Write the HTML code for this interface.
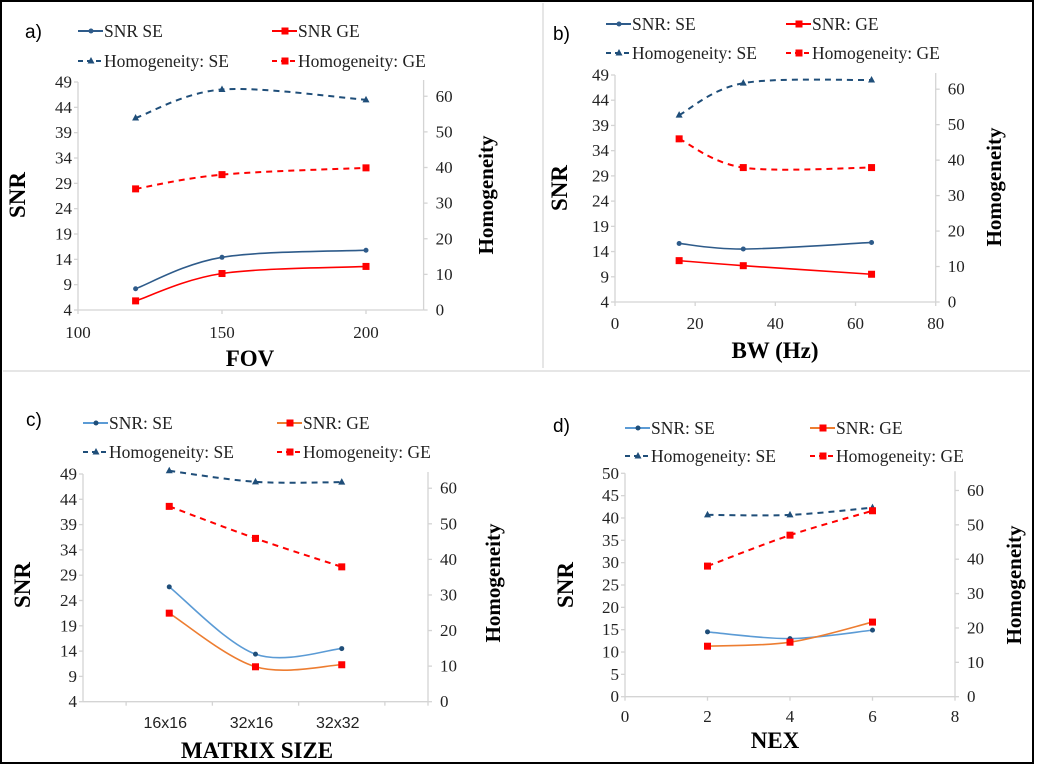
<!DOCTYPE html>
<html><head><meta charset="utf-8">
<style>
html,body{margin:0;padding:0;background:#fff;}
svg{display:block;}
</style></head>
<body>
<svg id="fig" width="1039" height="765" viewBox="0 0 1039 765" xmlns="http://www.w3.org/2000/svg">
<rect x="0" y="0" width="1039" height="765" fill="#fff"/>
<rect x="1" y="1" width="1032" height="762" fill="none" stroke="#000" stroke-width="2"/>
<line x1="543" y1="3" x2="543" y2="368" stroke="#ccc" stroke-width="1"/>
<line x1="3" y1="371" x2="1030" y2="371" stroke="#ccc" stroke-width="1"/>
<g id="root"></g>
</svg>
<script>
// ---- Panel a data ----
const aX = [120, 150, 200];
const aSnrSE = [8.2, 14.4, 15.8];
const aSnrGE = [5.8, 11.2, 12.6];
const aHomSE = [53.9, 61.9, 59];
const aHomGE = [34, 38, 39.9];
const aXTicks = [100, 150, 200];
const aYTicks = [4, 9, 14, 19, 24, 29, 34, 39, 44, 49];
const aRTicks = [0, 10, 20, 30, 40, 50, 60];
// ---- Panel b data ----
const bX = [16, 32, 64];
const bSnrSE = [15.6, 14.5, 15.8];
const bSnrGE = [12.2, 11.2, 9.5];
const bHomSE = [52.7, 61.7, 62.6];
const bHomGE = [46, 37.9, 37.9];
const bXTicks = [0, 20, 40, 60, 80];
const bYTicks = [4, 9, 14, 19, 24, 29, 34, 39, 44, 49];
const bRTicks = [0, 10, 20, 30, 40, 50, 60];
// ---- Panel c data ----
const cCategories = ["16x16", "32x16", "32x32"];
const cSnrSE = [26.7, 13.4, 14.5];
const cSnrGE = [21.5, 10.9, 11.3];
const cHomSE = [64.9, 61.8, 61.7];
const cHomGE = [54.9, 45.9, 37.9];
const cYTicks = [4, 9, 14, 19, 24, 29, 34, 39, 44, 49];
const cRTicks = [0, 10, 20, 30, 40, 50, 60];
// ---- Panel d data ----
const dX = [2, 4, 6];
const dSnrSE = [14.5, 13, 14.9];
const dSnrGE = [11.3, 12.2, 16.7];
const dHomSE = [52.9, 52.9, 55];
const dHomGE = [38, 47, 54.1];
const dXTicks = [0, 2, 4, 6, 8];
const dYTicks = [0, 5, 10, 15, 20, 25, 30, 35, 40, 45, 50];
const dRTicks = [0, 10, 20, 30, 40, 50, 60];

const NS = "http://www.w3.org/2000/svg";
const SERIF = 'Liberation Serif, serif';
const SANS = 'Liberation Sans, sans-serif';
const root = document.getElementById('root');
function mk(tag, attrs, parent, txt){
  const e = document.createElementNS(NS, tag);
  if (tag === 'text' && !attrs['font-family']) e.setAttribute('font-family', SERIF);
  for (const k in attrs) e.setAttribute(k, attrs[k]);
  if (txt !== undefined) e.textContent = txt;
  (parent || root).appendChild(e);
  return e;
}
function smoothPath(pts){
  if (pts.length < 2) return '';
  let d = 'M' + pts[0][0] + ',' + pts[0][1];
  for (let i = 0; i < pts.length - 1; i++){
    const p0 = pts[i-1] || pts[i], p1 = pts[i], p2 = pts[i+1], p3 = pts[i+2] || p2;
    const t = 0.5/3;
    const c1 = [p1[0] + (p2[0]-p0[0])*t, p1[1] + (p2[1]-p0[1])*t];
    const c2 = [p2[0] - (p3[0]-p1[0])*t, p2[1] - (p3[1]-p1[1])*t];
    d += ' C' + c1 + ' ' + c2 + ' ' + p2;
  }
  return d;
}
function marker(g, type, x, y, color){
  let m;
  if (type === 'sq') m = mk('rect', {x: x-3.5, y: y-3.5, width: 7, height: 7, fill: color}, g);
  else if (type === 'tri') m = mk('polygon', {points: (x)+','+(y-4)+' '+(x+3.5)+','+(y+2.5)+' '+(x-3.5)+','+(y+2.5), fill: color}, g);
  else m = mk('circle', {cx: x, cy: y, r: 2.5, fill: color}, g);
  
  
}

function panel(cfg){
  const g = mk('g', {});
  
  
  const X = v => cfg.px0 + (v - cfg.xmin) / (cfg.xmax - cfg.xmin) * (cfg.px1 - cfg.px0);
  const Y = v => cfg.py0 - (v - cfg.ymin) / (cfg.ymax - cfg.ymin) * (cfg.py0 - cfg.py1);
  const R = v => cfg.py0 - v / cfg.rmax * (cfg.py0 - cfg.py1);
  const ax = mk('g', {stroke: '#d4d4d4', 'stroke-width': 1.3}, g);
  mk('line', {x1: cfg.px0, y1: cfg.py1, x2: cfg.px0, y2: cfg.py0}, ax);
  mk('line', {x1: cfg.px1, y1: cfg.py1 - 2, x2: cfg.px1, y2: cfg.py0}, ax);
  mk('line', {x1: cfg.px0, y1: cfg.py0, x2: cfg.px1, y2: cfg.py0}, ax);
  cfg.yTicks.forEach(v => {
    mk('line', {x1: cfg.px0 - 4, y1: Y(v), x2: cfg.px0, y2: Y(v)}, ax);
    const t = mk('text', {x: cfg.px0 - 6, y: Y(v) + 5.5, 'text-anchor': 'end', 'font-size': 17, fill: '#222'}, g, String(v));
    
    
  });
  cfg.rTicks.forEach(v => {
    mk('line', {x1: cfg.px1, y1: R(v), x2: cfg.px1 + 4, y2: R(v)}, ax);
    const t = mk('text', {x: cfg.px1 + 12, y: R(v) + 5.5, 'font-size': 17, fill: '#222'}, g, String(v));
    
    
  });
  cfg.xTicks.forEach((v, i) => {
    const xv = cfg.xTickPos ? cfg.xTickPos[i] : v;
    mk('line', {x1: X(xv), y1: cfg.py0, x2: X(xv), y2: cfg.py0 + 4}, ax);
  });
  cfg.xTickLabels.forEach((lab, i) => {
    const xv = cfg.xLabelPos[i];
    const t = mk('text', {x: X(xv) - (cfg.cat ? 4 : 0), y: cfg.xLabY, 'text-anchor': 'middle', 'font-size': cfg.cat ? 16 : 17, fill: '#222', 'font-family': cfg.cat ? SANS : SERIF}, g, String(lab));
    
    
  });
  cfg.series.forEach(s => {
    const pts = cfg.xs.map((x, i) => [X(x), s.right ? R(s.vals[i]) : Y(s.vals[i])]);
    const p = mk('path', {d: smoothPath(pts), fill: 'none', stroke: s.color, 'stroke-width': s.dash ? 2 : 1.6, 'stroke-dasharray': s.dash ? '6,5' : 'none'}, g);
    
    
    pts.forEach(pt => marker(g, s.mk, pt[0], pt[1], s.mcolor));
  });
  cfg.series.forEach((s, i) => {
    const lx = cfg.leg[i][0], ly = cfg.leg[i][1];
    const lg = mk('g', {}, g);
    
    
    mk('line', {x1: lx, y1: ly - 5, x2: lx + 25, y2: ly - 5, stroke: s.color, 'stroke-width': 2, 'stroke-dasharray': s.dash ? '5,4' : 'none'}, lg);
    marker(lg, s.mk, lx + 13, ly - 5, s.mcolor);
    mk('text', {x: lx + 26, y: ly + 1, 'font-size': 17.5, fill: '#222'}, lg, s.label);
  });
  const pl = mk('text', {x: cfg.lab[0], y: cfg.lab[1], 'font-size': 19, 'font-family': SANS}, g, cfg.letter);
  
  
  const yt = mk('text', {x: 0, y: 0, 'text-anchor': 'middle', 'font-size': 23, 'font-weight': 'bold', transform: 'translate(' + cfg.yTitle[0] + ',' + cfg.yTitle[1] + ') rotate(-90)'}, g, 'SNR');
  
  
  const rt = mk('text', {x: 0, y: 0, 'text-anchor': 'middle', 'font-size': 21, 'font-weight': 'bold', transform: 'translate(' + cfg.rTitle[0] + ',' + cfg.rTitle[1] + ') rotate(-90)'}, g, 'Homogeneity');
  
  
  const xt = mk('text', {x: cfg.xTitle[0], y: cfg.xTitle[1], 'text-anchor': 'middle', 'font-size': 23, 'font-weight': 'bold'}, g, cfg.xTitleText);
  
  
}

const DB = '#2e5b8a', RED = '#ff0000', LB = '#5b9bd5', OR = '#ed7d31', DDB = '#1f4e79';

panel({name: 'panel-a-fov', letter: 'a)', lab: [25, 38],
  px0: 78, px1: 423.6, py0: 310, py1: 82, xmin: 100, xmax: 220, ymin: 4, ymax: 49, rmax: 64,
  xs: aX, xTicks: aXTicks, xTickLabels: aXTicks, xLabelPos: aXTicks, xLabY: 338,
  yTicks: aYTicks, rTicks: aRTicks,
  yTitle: [25, 195], rTitle: [493, 195], xTitle: [250, 366], xTitleText: 'FOV',
  leg: [[78, 36], [272, 36], [78, 66], [272, 66]],
  series: [
    {id: 'line-snr-se', label: 'SNR SE', vals: aSnrSE, color: DB, mcolor: DB, mk: 'dot'},
    {id: 'line-snr-ge', label: 'SNR GE', vals: aSnrGE, color: RED, mcolor: RED, mk: 'sq'},
    {id: 'line-homogeneity-se', label: 'Homogeneity: SE', vals: aHomSE, color: DDB, mcolor: DDB, mk: 'tri', dash: true, right: true},
    {id: 'line-homogeneity-ge', label: 'Homogeneity: GE', vals: aHomGE, color: RED, mcolor: RED, mk: 'sq', dash: true, right: true}
  ]});

panel({name: 'panel-b-bw', letter: 'b)', lab: [553, 40],
  px0: 615, px1: 935.7, py0: 302, py1: 75, xmin: 0, xmax: 80, ymin: 4, ymax: 49, rmax: 64,
  xs: bX, xTicks: bXTicks, xTickLabels: bXTicks, xLabelPos: bXTicks, xLabY: 329,
  yTicks: bYTicks, rTicks: bRTicks,
  yTitle: [567, 188], rTitle: [1001, 187], xTitle: [775, 358], xTitleText: 'BW (Hz)',
  leg: [[606, 29], [786, 29], [606, 58], [786, 58]],
  series: [
    {id: 'line-snr-se', label: 'SNR: SE', vals: bSnrSE, color: DB, mcolor: DB, mk: 'dot'},
    {id: 'line-snr-ge', label: 'SNR: GE', vals: bSnrGE, color: RED, mcolor: RED, mk: 'sq'},
    {id: 'line-homogeneity-se', label: 'Homogeneity: SE', vals: bHomSE, color: DDB, mcolor: DDB, mk: 'tri', dash: true, right: true},
    {id: 'line-homogeneity-ge', label: 'Homogeneity: GE', vals: bHomGE, color: RED, mcolor: RED, mk: 'sq', dash: true, right: true}
  ]});

panel({name: 'panel-c-matrix', letter: 'c)', lab: [26, 426], cat: true,
  px0: 83, px1: 428, py0: 701.7, py1: 474, xmin: 0, xmax: 4, ymin: 4, ymax: 49, rmax: 64,
  xs: cCategories.map((c, i) => i + 1), xTicks: [0, 1, 2, 3, 4], xTickPos: [0.5, 1.5, 2.5, 3.5, 4],
  xTickLabels: cCategories, xLabelPos: cCategories.map((c, i) => i + 1), xLabY: 728,
  yTicks: cYTicks, rTicks: cRTicks,
  yTitle: [30, 585], rTitle: [500, 583], xTitle: [257, 758], xTitleText: 'MATRIX SIZE',
  leg: [[83, 428], [277, 428], [83, 457], [277, 457]],
  series: [
    {id: 'line-snr-se', label: 'SNR: SE', vals: cSnrSE, color: LB, mcolor: DDB, mk: 'dot'},
    {id: 'line-snr-ge', label: 'SNR: GE', vals: cSnrGE, color: OR, mcolor: RED, mk: 'sq'},
    {id: 'line-homogeneity-se', label: 'Homogeneity: SE', vals: cHomSE, color: DDB, mcolor: DDB, mk: 'tri', dash: true, right: true},
    {id: 'line-homogeneity-ge', label: 'Homogeneity: GE', vals: cHomGE, color: RED, mcolor: RED, mk: 'sq', dash: true, right: true}
  ]});

panel({name: 'panel-d-nex', letter: 'd)', lab: [553, 432],
  px0: 625, px1: 955, py0: 696.7, py1: 473.3, xmin: 0, xmax: 8, ymin: 0, ymax: 50, rmax: 65,
  xs: dX, xTicks: dXTicks, xTickLabels: dXTicks, xLabelPos: dXTicks, xLabY: 722,
  yTicks: dYTicks, rTicks: dRTicks,
  yTitle: [573, 585], rTitle: [1021, 585], xTitle: [775, 748], xTitleText: 'NEX',
  leg: [[625, 433], [810, 433], [625, 461], [810, 461]],
  series: [
    {id: 'line-snr-se', label: 'SNR: SE', vals: dSnrSE, color: LB, mcolor: DDB, mk: 'dot'},
    {id: 'line-snr-ge', label: 'SNR: GE', vals: dSnrGE, color: OR, mcolor: RED, mk: 'sq'},
    {id: 'line-homogeneity-se', label: 'Homogeneity: SE', vals: dHomSE, color: DDB, mcolor: DDB, mk: 'tri', dash: true, right: true},
    {id: 'line-homogeneity-ge', label: 'Homogeneity: GE', vals: dHomGE, color: RED, mcolor: RED, mk: 'sq', dash: true, right: true}
  ]});
</script>
</body></html>
